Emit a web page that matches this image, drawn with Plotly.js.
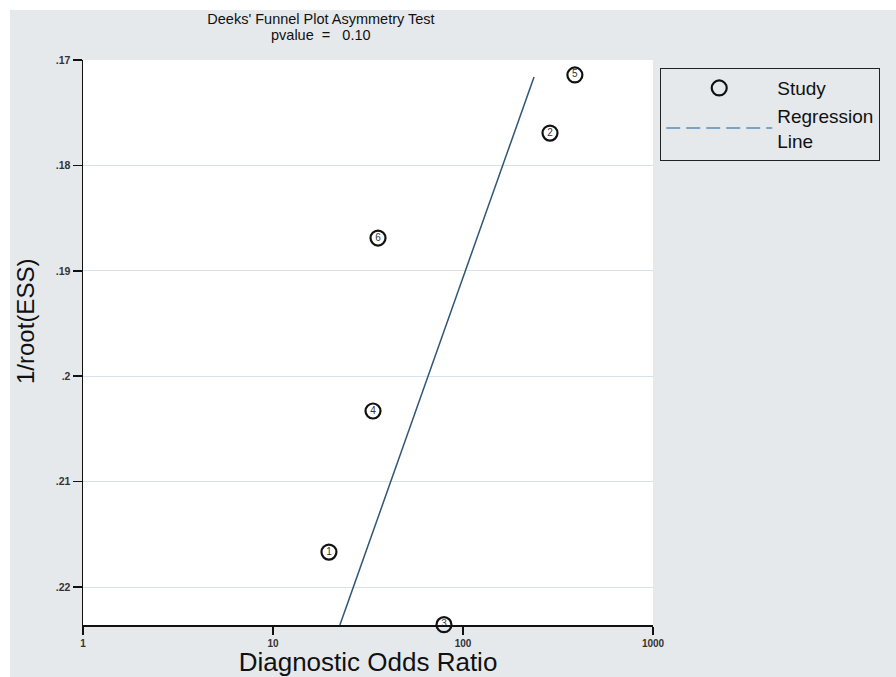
<!DOCTYPE html>
<html>
<head>
<meta charset="utf-8">
<script src="https://cdn.plot.ly/plotly-3.0.1.min.js"></script>
<style>
  html, body { margin: 0; padding: 0; background: #ffffff; }
  #chart { position: absolute; left: 10px; top: 10px; width: 886px; height: 667px; }
</style>
</head>
<body>
<div id="chart"></div>
<script>
// Study data (Diagnostic Odds Ratio vs 1/root(ESS))
const studyIds = ['1', '2', '3', '4', '5', '6'];
const studyDOR = [19.7, 287, 79.4, 33.6, 388, 35.7];
const studyInvRootESS = [0.21668, 0.17693, 0.22357, 0.20330, 0.17142, 0.18689];

// Regression line endpoints
const regDOR = [236.5, 22.5];
const regInvRootESS = [0.17161, 0.2236];

// Ticks
const xTickVals = [1, 10, 100, 1000];
const xTickText = ['1', '10', '100', '1000'];
const yTickVals = [0.17, 0.18, 0.19, 0.20, 0.21, 0.22];
const yTickText = ['.17', '.18', '.19', '.2', '.21', '.22'];

const titleLine1 = "Deeks' Funnel Plot Asymmetry Test";
const titleLine2 = "pvalue&nbsp;&nbsp;=&nbsp;&nbsp;&nbsp;0.10";

const sans = '"Liberation Sans", Arial, sans-serif';

const traces = [
  {
    x: studyDOR, y: studyInvRootESS, name: 'Study', type: 'scatter', mode: 'markers',
    marker: { symbol: 'circle-open', size: 15, color: '#111', line: { width: 2.2, color: '#111' } },
    cliponaxis: false, hoverinfo: 'x+y'
  },
  {
    x: studyDOR, y: studyInvRootESS, text: studyIds, type: 'scatter', mode: 'text',
    textposition: 'middle center', textfont: { family: sans, size: 10, color: '#333' },
    showlegend: false, cliponaxis: false, hoverinfo: 'skip'
  },
  {
    x: regDOR, y: regInvRootESS, type: 'scatter', mode: 'lines', showlegend: false,
    line: { color: '#2f5676', width: 1.5 }, hoverinfo: 'skip'
  },
  {
    x: [null], y: [null], name: 'Regression<br>Line', type: 'scatter', mode: 'lines',
    line: { color: '#5a8cb5', width: 1.5, dash: '14px,6px' }
  }
];

const layout = {
  width: 886, height: 667,
  margin: { l: 73, r: 243, t: 50, b: 52 },
  paper_bgcolor: '#e6e9ec',
  plot_bgcolor: '#ffffff',
  showlegend: true,
  title: {
    text: titleLine1,
    font: { family: sans, size: 14.5, color: '#111' },
    xref: 'container', x: 0.351, xanchor: 'center',
    yref: 'container', y: 0.9865, yanchor: 'middle'
  },
  annotations: [
    {
      text: titleLine2, xref: 'paper', yref: 'paper',
      x: 0.418, y: 1.0442, xanchor: 'center', yanchor: 'middle', showarrow: false,
      font: { family: sans, size: 14.5, color: '#111' }
    },
    {
      text: '1/root(ESS)', xref: 'paper', yref: 'paper', textangle: -90,
      x: -0.1, y: 0.5363, xanchor: 'center', yanchor: 'middle', showarrow: false,
      font: { family: sans, size: 24, color: '#111' }
    }
  ],
  xaxis: {
    type: 'log', range: [0, 3],
    tickvals: xTickVals, ticktext: xTickText,
    ticks: 'outside', ticklen: 8, tickwidth: 1.5, tickcolor: '#111',
    showline: true, linecolor: '#111', linewidth: 1.5,
    showgrid: false, zeroline: false,
    tickfont: { family: sans, size: 10, color: '#333', weight: 'bold' },
    title: { text: 'Diagnostic Odds Ratio', font: { family: sans, size: 26, color: '#111' }, standoff: 6 }
  },
  yaxis: {
    range: [0.2236, 0.17],
    tickvals: yTickVals, ticktext: yTickText,
    ticks: 'outside', ticklen: 9, tickwidth: 1.5, tickcolor: '#111',
    showline: true, linecolor: '#111', linewidth: 1.5,
    showgrid: true, gridcolor: '#d5e2ea', gridwidth: 1, zeroline: false,
    tickfont: { family: sans, size: 10.5, color: '#333', weight: 'bold' }
  },
  legend: {
    x: 1.0123, xanchor: 'left', y: 0.986, yanchor: 'top',
    bgcolor: '#e6e9ec', bordercolor: '#222', borderwidth: 1.2,
    font: { family: sans, size: 19, color: '#111' },
    itemwidth: 106, tracegroupgap: 0
  }
};

Plotly.newPlot('chart', traces, layout, { displayModeBar: false, staticPlot: true });
</script>
</body>
</html>
